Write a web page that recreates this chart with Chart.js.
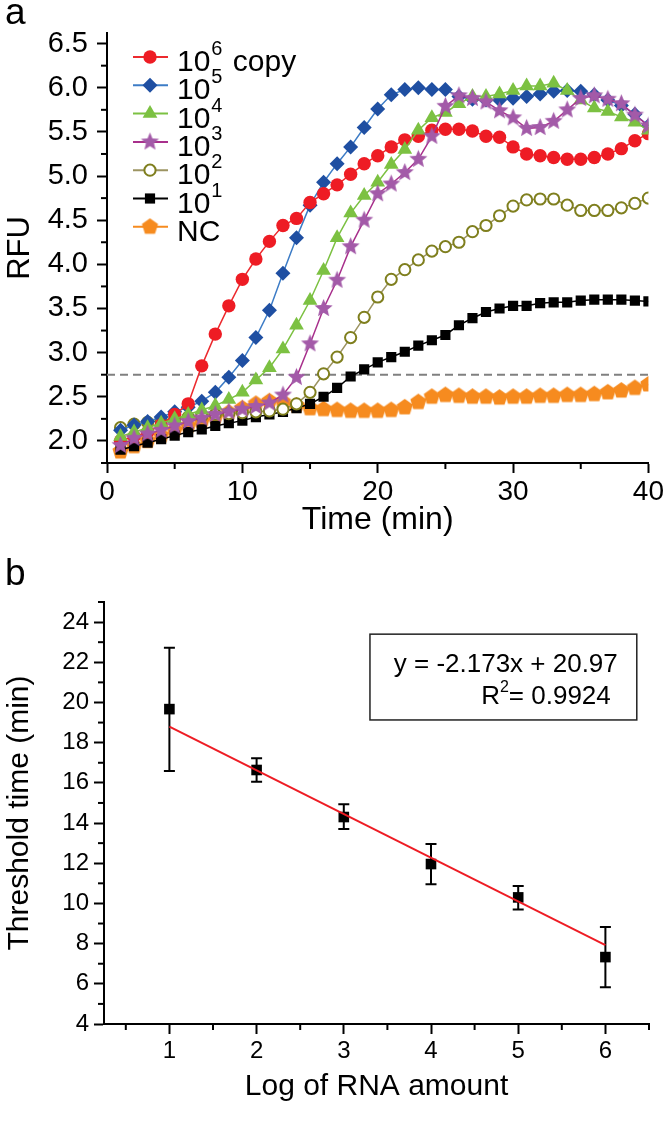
<!DOCTYPE html>
<html>
<head>
<meta charset="utf-8">
<script src="https://cdn.jsdelivr.net/npm/chart.js@4.4.1/dist/chart.umd.min.js"></script>
<style>
  body { margin: 0; background: #fff; width: 666px; height: 1121px; position: relative; overflow: hidden;
         font-family: "Liberation Sans", Arial, sans-serif; }
  .panel { position: absolute; left: 0; width: 666px; }
  #wrapA { top: 0; height: 545px; }
  #wrapB { top: 545px; height: 576px; }
  .tag { position: absolute; left: 5px; font-size: 37px; line-height: 37px; color: #000; }
</style>
</head>
<body>
<div class="panel" id="wrapA"><canvas id="chartA" width="666" height="545"></canvas></div>
<div class="panel" id="wrapB"><canvas id="chartB" width="666" height="576"></canvas></div>
<div class="tag" style="top:-7px">a</div>
<div class="tag" style="top:554px">b</div>
<script>
// panel a: RFU curves, one reading per minute
const times = [1,2,3,4,5,6,7,8,9,10,11,12,13,14,15,16,17,18,19,20,21,22,23,24,25,26,27,28,29,30,31,32,33,34,35,36,37,38,39,40]
const rfu1e6 = [2.0,2.05,2.1,2.18,2.3,2.42,2.85,3.21,3.53,3.83,4.06,4.26,4.44,4.52,4.70,4.80,4.90,5.02,5.14,5.23,5.33,5.41,5.45,5.52,5.53,5.53,5.51,5.45,5.44,5.33,5.25,5.23,5.21,5.19,5.19,5.21,5.25,5.31,5.40,5.48]
const rfu1e5 = [2.12,2.18,2.22,2.27,2.33,2.38,2.45,2.55,2.72,2.91,3.17,3.48,3.90,4.30,4.67,4.93,5.14,5.33,5.55,5.76,5.92,5.98,6.0,5.98,5.98,5.90,5.87,5.86,5.86,5.88,5.90,5.93,5.96,5.97,5.96,5.92,5.86,5.80,5.70,5.57]
const rfu1e4 = [2.05,2.1,2.15,2.2,2.25,2.3,2.35,2.4,2.47,2.55,2.69,2.83,3.04,3.31,3.59,3.93,4.30,4.58,4.78,4.93,5.13,5.30,5.52,5.66,5.72,5.82,5.90,5.90,5.93,5.97,6.02,6.02,6.05,5.97,5.86,5.77,5.73,5.67,5.61,5.52]
const rfu1e3 = [1.95,2.03,2.08,2.12,2.17,2.22,2.26,2.3,2.33,2.36,2.39,2.43,2.52,2.72,3.10,3.50,3.82,4.20,4.50,4.80,4.91,5.04,5.19,5.45,5.79,5.91,5.88,5.84,5.74,5.66,5.54,5.55,5.62,5.75,5.88,5.91,5.87,5.82,5.69,5.57]
const rfu1e2 = [2.15,2.19,2.21,2.23,2.25,2.27,2.28,2.3,2.31,2.32,2.33,2.34,2.36,2.42,2.55,2.76,2.95,3.17,3.40,3.63,3.83,3.94,4.05,4.15,4.20,4.25,4.37,4.44,4.55,4.66,4.73,4.74,4.74,4.67,4.61,4.61,4.61,4.64,4.69,4.75]
const rfu1e1 = [1.9,1.94,1.98,2.02,2.06,2.1,2.13,2.17,2.2,2.23,2.27,2.3,2.33,2.37,2.42,2.5,2.6,2.73,2.81,2.89,2.95,3.01,3.08,3.14,3.20,3.31,3.39,3.46,3.50,3.53,3.53,3.56,3.57,3.57,3.59,3.60,3.60,3.60,3.59,3.58]
const rfuNC = [1.88,1.94,2.0,2.06,2.12,2.17,2.22,2.27,2.32,2.37,2.42,2.45,2.44,2.4,2.37,2.36,2.35,2.34,2.34,2.34,2.35,2.38,2.44,2.5,2.52,2.51,2.5,2.5,2.49,2.5,2.5,2.51,2.51,2.52,2.52,2.53,2.55,2.57,2.6,2.64]
const seriesLabels = ['10^6 copy', '10^5', '10^4', '10^3', '10^2', '10^1', 'NC']
const thresholdRFU = 2.75

// panel b: threshold time vs log RNA amount
const logAmount = [1, 2, 3, 4, 5, 6]
const thresholdTime = [19.67, 16.64, 14.30, 11.96, 10.30, 7.33]
const errHigh = [22.72, 17.22, 14.93, 12.96, 10.87, 8.83]
const errLow = [16.59, 16.06, 13.70, 10.95, 9.70, 5.83]
const fitX = [1, 6]
const fitY = [18.8, 7.93]
const fitText = ['y = -2.173x + 20.97', '0.9924']

const FONT = '"Liberation Sans", Arial, sans-serif'
Chart.defaults.font.family = FONT
Chart.defaults.color = '#000'

// little canvases for the star and pentagon markers
function polyMarker(points, rOut, rIn, color, size) {
  const c = document.createElement('canvas')
  c.width = size; c.height = size
  const g = c.getContext('2d')
  const n = rIn ? points * 2 : points
  g.beginPath()
  for (let i = 0; i < n; i++) {
    const r = rIn ? (i % 2 ? rIn : rOut) : rOut
    const a = -Math.PI / 2 + i * 2 * Math.PI / n
    const px = size / 2 + r * Math.cos(a), py = size / 2 + r * Math.sin(a)
    i ? g.lineTo(px, py) : g.moveTo(px, py)
  }
  g.closePath()
  g.fillStyle = color
  g.fill()
  return c
}
const starImg = polyMarker(5, 9.5, 4.2, '#a35aa8', 21)
const pentImg = polyMarker(5, 8.5, 0, '#f68b1f', 19)

const mk = vals => times.map((t, i) => ({ x: t, y: vals[i] }))

const seriesStyle = [
  { data: rfu1e6, line: '#ec2a2e', fill: '#ee1c24', edge: '#ee1c24', style: 'circle', r: 6.7, bw: 0, order: 2 },
  { data: rfu1e5, line: '#3d7cc6', fill: '#1f4fa2', edge: '#1f4fa2', style: 'rectRot', r: 7.5, bw: 0, order: 3 },
  { data: rfu1e4, line: '#7cc142', fill: '#7cc142', edge: '#7cc142', style: 'triangle', r: 8.5, bw: 0, order: 1 },
  { data: rfu1e3, line: '#a8308c', fill: '#a35aa8', edge: '#a35aa8', style: starImg, r: 9, bw: 0, order: 0 },
  { data: rfu1e2, line: '#9c9462', fill: '#ffffff', edge: '#7f7f1e', style: 'circle', r: 5.6, bw: 2, order: 4 },
  { data: rfu1e1, line: '#000000', fill: '#000000', edge: '#000000', style: 'rect', r: 7.2, bw: 0, order: 5 },
  { data: rfuNC, line: '#f68b1f', fill: '#f68b1f', edge: '#f68b1f', style: pentImg, r: 8, bw: 0, order: 6 }
]

const datasetsA = seriesStyle.map((s, i) => ({
  label: seriesLabels[i],
  data: mk(s.data),
  borderColor: s.line,
  borderWidth: 1.5,
  pointStyle: s.style,
  pointRadius: s.r,
  pointBackgroundColor: s.fill,
  pointBorderColor: s.edge,
  pointBorderWidth: s.bw,
  order: s.order
}))
datasetsA.push({
  label: 'threshold',
  data: [{ x: 0, y: thresholdRFU }, { x: 40, y: thresholdRFU }],
  borderColor: '#808080',
  borderWidth: 2,
  borderDash: [8, 5],
  pointRadius: 0,
  order: 10
})

const near = (v, k) => Math.abs(v * k - Math.round(v * k)) < 1e-6

// short minor ticks; the major ones come from the scale grid itself
const minorTicks = {
  id: 'minorTicks',
  afterDraw(chart, args, opts) {
    const ctx = chart.ctx
    ctx.save()
    ctx.strokeStyle = '#000'
    ctx.lineWidth = 2
    ;['x', 'y'].forEach(id => {
      const s = chart.scales[id]
      s.ticks.forEach(t => {
        if (opts[id](t.value)) return
        const p = s.getPixelForValue(t.value)
        ctx.beginPath()
        if (id === 'x') { ctx.moveTo(p, s.top); ctx.lineTo(p, s.top + opts.len) }
        else { ctx.moveTo(s.right - opts.len, p); ctx.lineTo(s.right, p) }
        ctx.stroke()
      })
    })
    ctx.restore()
  }
}

// legend with line + marker + superscript text
const curveLegend = {
  id: 'curveLegend',
  afterDraw(chart) {
    const ctx = chart.ctx
    seriesLabels.forEach((lab, i) => {
      const ds = chart.data.datasets[i]
      const y = 57 + i * 28.3
      ctx.save()
      ctx.strokeStyle = ds.borderColor
      ctx.lineWidth = 2
      ctx.beginPath(); ctx.moveTo(133, y); ctx.lineTo(168, y); ctx.stroke()
      ctx.fillStyle = ds.pointBackgroundColor
      ctx.strokeStyle = ds.pointBorderColor
      ctx.lineWidth = ds.pointBorderWidth
      Chart.helpers.drawPoint(ctx, { pointStyle: ds.pointStyle, radius: ds.pointRadius, borderWidth: ds.pointBorderWidth, rotation: 0 }, 150, y)
      ctx.fillStyle = '#000'
      ctx.textAlign = 'left'
      ctx.textBaseline = 'alphabetic'
      const m = lab.match(/^(\d+)\^(\d)(.*)$/)
      let x = 177
      ctx.font = '30px ' + FONT
      if (m) {
        ctx.fillText(m[1], x, y + 14)
        x += ctx.measureText(m[1]).width + 1
        ctx.font = '20px ' + FONT
        ctx.fillText(m[2], x, y - 2)
        x += ctx.measureText(m[2]).width
        if (m[3]) {
          ctx.font = '30px ' + FONT
          ctx.fillText(m[3], x + 2, y + 14)
        }
      } else {
        ctx.fillText(lab, x, y + 14)
      }
      ctx.restore()
    })
  }
}

const majA = { x: v => near(v, 0.1), y: v => near(v, 2) }
new Chart(document.getElementById('chartA'), {
  type: 'line',
  data: { datasets: datasetsA },
  options: {
    responsive: false,
    animation: false,
    devicePixelRatio: 1,
    layout: { padding: { top: 33, right: 14, left: 0, bottom: 0 } },
    plugins: { legend: { display: false }, tooltip: { enabled: false },
               minorTicks: { x: majA.x, y: majA.y, len: 6 } },
    scales: {
      x: {
        type: 'linear', min: 0, max: 40,
        border: { color: '#000', width: 2 },
        grid: { drawOnChartArea: false, tickLength: 10, tickWidth: 2,
                tickColor: c => (c.tick && majA.x(c.tick.value) ? '#000' : 'rgba(0,0,0,0)') },
        ticks: { stepSize: 5, autoSkip: false, maxRotation: 0, includeBounds: false, font: { size: 28 }, padding: 2,
                 callback: v => (near(v, 0.1) ? v : '') },
        title: { display: true, text: 'Time (min)', font: { size: 32 }, padding: { top: 0, bottom: 6 } },
        afterFit: s => { s.height = 82 }
      },
      y: {
        min: 1.75, max: 6.62,
        border: { color: '#000', width: 2 },
        grid: { drawOnChartArea: false, tickLength: 10, tickWidth: 2,
                tickColor: c => (c.tick && majA.y(c.tick.value) ? '#000' : 'rgba(0,0,0,0)') },
        afterBuildTicks: s => { s.ticks = s.ticks.filter(t => near(t.value, 4)) },
        ticks: { stepSize: 0.25, autoSkip: false, includeBounds: false, font: { size: 29 }, padding: 9,
                 callback: v => (near(v, 2) ? v.toFixed(1) : '') },
        title: { display: true, text: 'RFU', font: { size: 31 }, padding: { top: 2, bottom: 0 } },
        afterFit: s => { s.width = 107 }
      }
    }
  },
  plugins: [curveLegend, minorTicks]
})

// panel b
const errorBars = {
  id: 'errorBars',
  beforeDatasetsDraw(chart) {
    const { ctx, scales: { x, y } } = chart
    ctx.save()
    ctx.strokeStyle = '#000'
    ctx.lineWidth = 2
    logAmount.forEach((v, i) => {
      const px = x.getPixelForValue(v)
      const top = y.getPixelForValue(errHigh[i]), bot = y.getPixelForValue(errLow[i])
      ctx.beginPath()
      ctx.moveTo(px, top); ctx.lineTo(px, bot)
      ctx.moveTo(px - 5.5, top); ctx.lineTo(px + 5.5, top)
      ctx.moveTo(px - 5.5, bot); ctx.lineTo(px + 5.5, bot)
      ctx.stroke()
    })
    ctx.restore()
  }
}

const fitBox = {
  id: 'fitBox',
  afterDraw(chart) {
    const { ctx, scales: { x, y } } = chart
    const l = x.getPixelForValue(3.3), r = x.getPixelForValue(6.36)
    const t = y.getPixelForValue(23.4), b = y.getPixelForValue(19.13)
    ctx.save()
    ctx.strokeStyle = '#222'
    ctx.lineWidth = 1.5
    ctx.strokeRect(l, t, r - l, b - t)
    ctx.fillStyle = '#000'
    ctx.textBaseline = 'alphabetic'
    ctx.textAlign = 'right'
    ctx.font = '26px ' + FONT
    ctx.fillText(fitText[0], r - 19, t + 38)
    // R^2 line, built right to left
    let xr = r - 26
    const rest = '= ' + fitText[1]
    ctx.fillText(rest, xr, t + 70)
    xr -= ctx.measureText(rest).width
    ctx.font = '16px ' + FONT
    ctx.fillText('2', xr, t + 58)
    xr -= ctx.measureText('2').width
    ctx.font = '26px ' + FONT
    ctx.fillText('R', xr, t + 70)
    ctx.restore()
  }
}

const majB = { x: v => Number.isInteger(v), y: v => near(v, 0.5) }
new Chart(document.getElementById('chartB'), {
  type: 'line',
  data: {
    datasets: [
      {
        label: 'fit',
        data: fitX.map((v, i) => ({ x: v, y: fitY[i] })),
        borderColor: '#ee1c24',
        borderWidth: 2,
        pointRadius: 0,
        order: 0
      },
      {
        label: 'threshold time',
        data: logAmount.map((v, i) => ({ x: v, y: thresholdTime[i] })),
        showLine: false,
        pointStyle: 'rect',
        pointRadius: 7.5,
        pointBackgroundColor: '#000',
        pointBorderColor: '#000',
        pointBorderWidth: 0,
        order: 1
      }
    ]
  },
  options: {
    responsive: false,
    animation: false,
    devicePixelRatio: 1,
    layout: { padding: { top: 57, right: 17, left: 0, bottom: 0 } },
    plugins: { legend: { display: false }, tooltip: { enabled: false },
               minorTicks: { x: majB.x, y: majB.y, len: 6 } },
    scales: {
      x: {
        type: 'linear', min: 0.25, max: 6.5,
        border: { color: '#000', width: 2 },
        grid: { drawOnChartArea: false, tickLength: 10, tickWidth: 2,
                tickColor: c => (c.tick && majB.x(c.tick.value) ? '#000' : 'rgba(0,0,0,0)') },
        afterBuildTicks: s => { s.ticks = s.ticks.filter(t => near(t.value, 2)) },
        ticks: { stepSize: 0.5, autoSkip: false, maxRotation: 0, includeBounds: false, font: { size: 24 }, padding: 3,
                 callback: v => (Number.isInteger(v) ? v : '') },
        title: { display: true, text: 'Log of RNA amount', font: { size: 30 }, padding: { top: 0, bottom: 16 } },
        afterFit: s => { s.height = 97 }
      },
      y: {
        min: 4, max: 25,
        border: { color: '#000', width: 2 },
        grid: { drawOnChartArea: false, tickLength: 10, tickWidth: 2,
                tickColor: c => (c.tick && majB.y(c.tick.value) ? '#000' : 'rgba(0,0,0,0)') },
        ticks: { stepSize: 1, autoSkip: false, font: { size: 24 }, padding: 5,
                 callback: v => (near(v, 0.5) ? v : '') },
        title: { display: true, text: 'Threshold time (min)', font: { size: 30 }, padding: { top: 2, bottom: 0 } },
        afterFit: s => { s.width = 104 }
      }
    }
  },
  plugins: [errorBars, fitBox, minorTicks]
})
</script>
</body>
</html>
